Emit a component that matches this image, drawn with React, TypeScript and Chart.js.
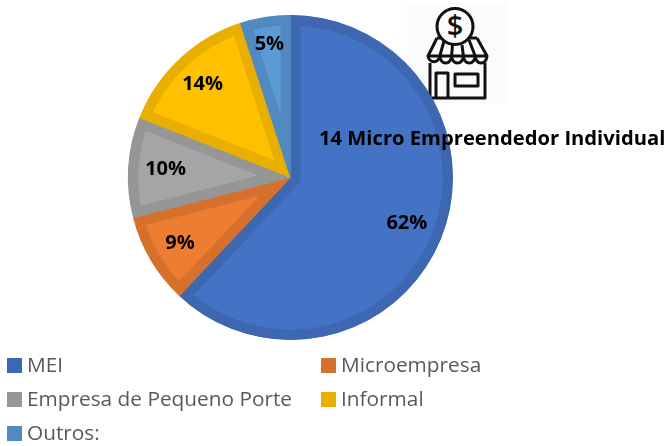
import React, { useEffect, useRef } from "react";
import { Chart, registerables } from "chart.js";

Chart.register(...registerables);

const categories = ["MEI", "Microempresa", "Empresa de Pequeno Porte", "Informal", "Outros:"];
const values = [62, 9, 10, 14, 5];
const labelTexts = ["62%", "9%", "10%", "14%", "5%"];
const fills = ["#4472C4", "#ED7D31", "#A5A5A5", "#FFC000", "#5B9BD5"];
const borders = ["#3E67B2", "#D6712D", "#969696", "#E8AE00", "#5289C0"];
const labelRadii = [0.77, 0.79, 0.77, 0.79, 0.83];
const noteText = "14 Micro Empreendedor Individual";

const FONT = '"Open Sans", sans-serif';

const labelPlugin = {
  id: "sliceLabels",
  afterDatasetsDraw(chart: any) {
    const ctx = chart.ctx;
    const arcs = chart.getDatasetMeta(0).data;
    ctx.save();
    ctx.fillStyle = "#000";
    ctx.textAlign = "center";
    ctx.textBaseline = "middle";
    ctx.font = `bold 20px ${FONT}`;
    arcs.forEach((arc: any, i: number) => {
      const p = arc.getProps(["x", "y", "startAngle", "endAngle", "outerRadius"], true);
      const mid = (p.startAngle + p.endAngle) / 2;
      const r = p.outerRadius * labelRadii[i];
      ctx.fillText(labelTexts[i], p.x + Math.cos(mid) * r, p.y + Math.sin(mid) * r);
    });
    ctx.textAlign = "left";
    ctx.font = `bold 20.2px ${FONT}`;
    ctx.fillText(noteText, 319, 139);
    ctx.restore();
  },
};

function StoreIcon() {
  return (
    <svg
      width={100}
      height={100}
      viewBox="0 0 100 100"
      style={{ position: "absolute", left: 407, top: 3 }}
    >
      <rect width="100" height="100" fill="#FBFBFB" />
      <g fill="none" stroke="#111" strokeWidth={3} strokeLinejoin="round">
        <circle cx="48" cy="23.5" r="18" fill="#FBFBFB" />
        <path d="M30 35 L35 35 M61 35 L70 35 M30 35 L21 53 M70 35 L80 53" />
        <path d="M21 53 a6 7 0 0 0 11.8 0 a5.9 7 0 0 0 11.8 0 a5.9 7 0 0 0 11.8 0 a5.9 7 0 0 0 11.8 0 a5.9 7 0 0 0 11.8 0 Z" />
        <path d="M32.8 53 L37 38 M44.6 53 L45.5 42 M56.4 53 L55 42 M68.2 53 L62 37" />
        <path d="M23 60 L23 95 L78 95 L78 60" />
        <path d="M29 95 L29 70 L41 70 L41 95" />
        <rect x="48" y="71" width="23" height="12" />
      </g>
      <text
        x="48"
        y="33"
        textAnchor="middle"
        fontFamily={FONT}
        fontSize={29}
        fontWeight={600}
        fill="#111"
      >
        $
      </text>
    </svg>
  );
}

const legendRowTops = [358, 392, 426];

function Legend() {
  return (
    <>
      {categories.map((name, i) => {
        const left = i % 2 === 0 ? 7 : 321;
        const top = legendRowTops[Math.floor(i / 2)];
        return (
          <div key={name} style={{ position: "absolute", left, top, height: 15, width: 300 }}>
            <div
              style={{
                position: "absolute",
                left: 0,
                top: 0,
                width: 15,
                height: 15,
                background: borders[i],
              }}
            />
            <div
              style={{
                position: "absolute",
                left: 20,
                top: -8,
                lineHeight: "28px",
                fontFamily: FONT,
                fontSize: 20.8,
                color: "#595959",
                whiteSpace: "nowrap",
              }}
            >
              {name}
            </div>
          </div>
        );
      })}
    </>
  );
}

export default function App() {
  const ref = useRef<HTMLCanvasElement>(null);

  useEffect(() => {
    document.body.style.margin = "0";
    const chart = new Chart(ref.current!, {
      type: "pie",
      data: {
        labels: categories,
        datasets: [
          {
            data: values,
            backgroundColor: fills,
            borderColor: borders,
            borderWidth: 10,
            borderAlign: "inner",
            borderJoinStyle: "miter",
            hoverOffset: 0,
          },
        ],
      },
      options: {
        animation: false,
        responsive: false,
        layout: { padding: { left: 128, right: 213, top: 15, bottom: 106 } },
        plugins: { legend: { display: false }, tooltip: { enabled: false }, title: { display: false } },
      },
      plugins: [labelPlugin],
    } as any);
    return () => chart.destroy();
  }, []);

  return (
    <div style={{ position: "relative", width: 666, height: 446, overflow: "hidden", background: "#fff" }}>
      <StoreIcon />
      <canvas ref={ref} width={666} height={446} style={{ position: "absolute", left: 0, top: 0 }} />
      <Legend />
    </div>
  );
}
